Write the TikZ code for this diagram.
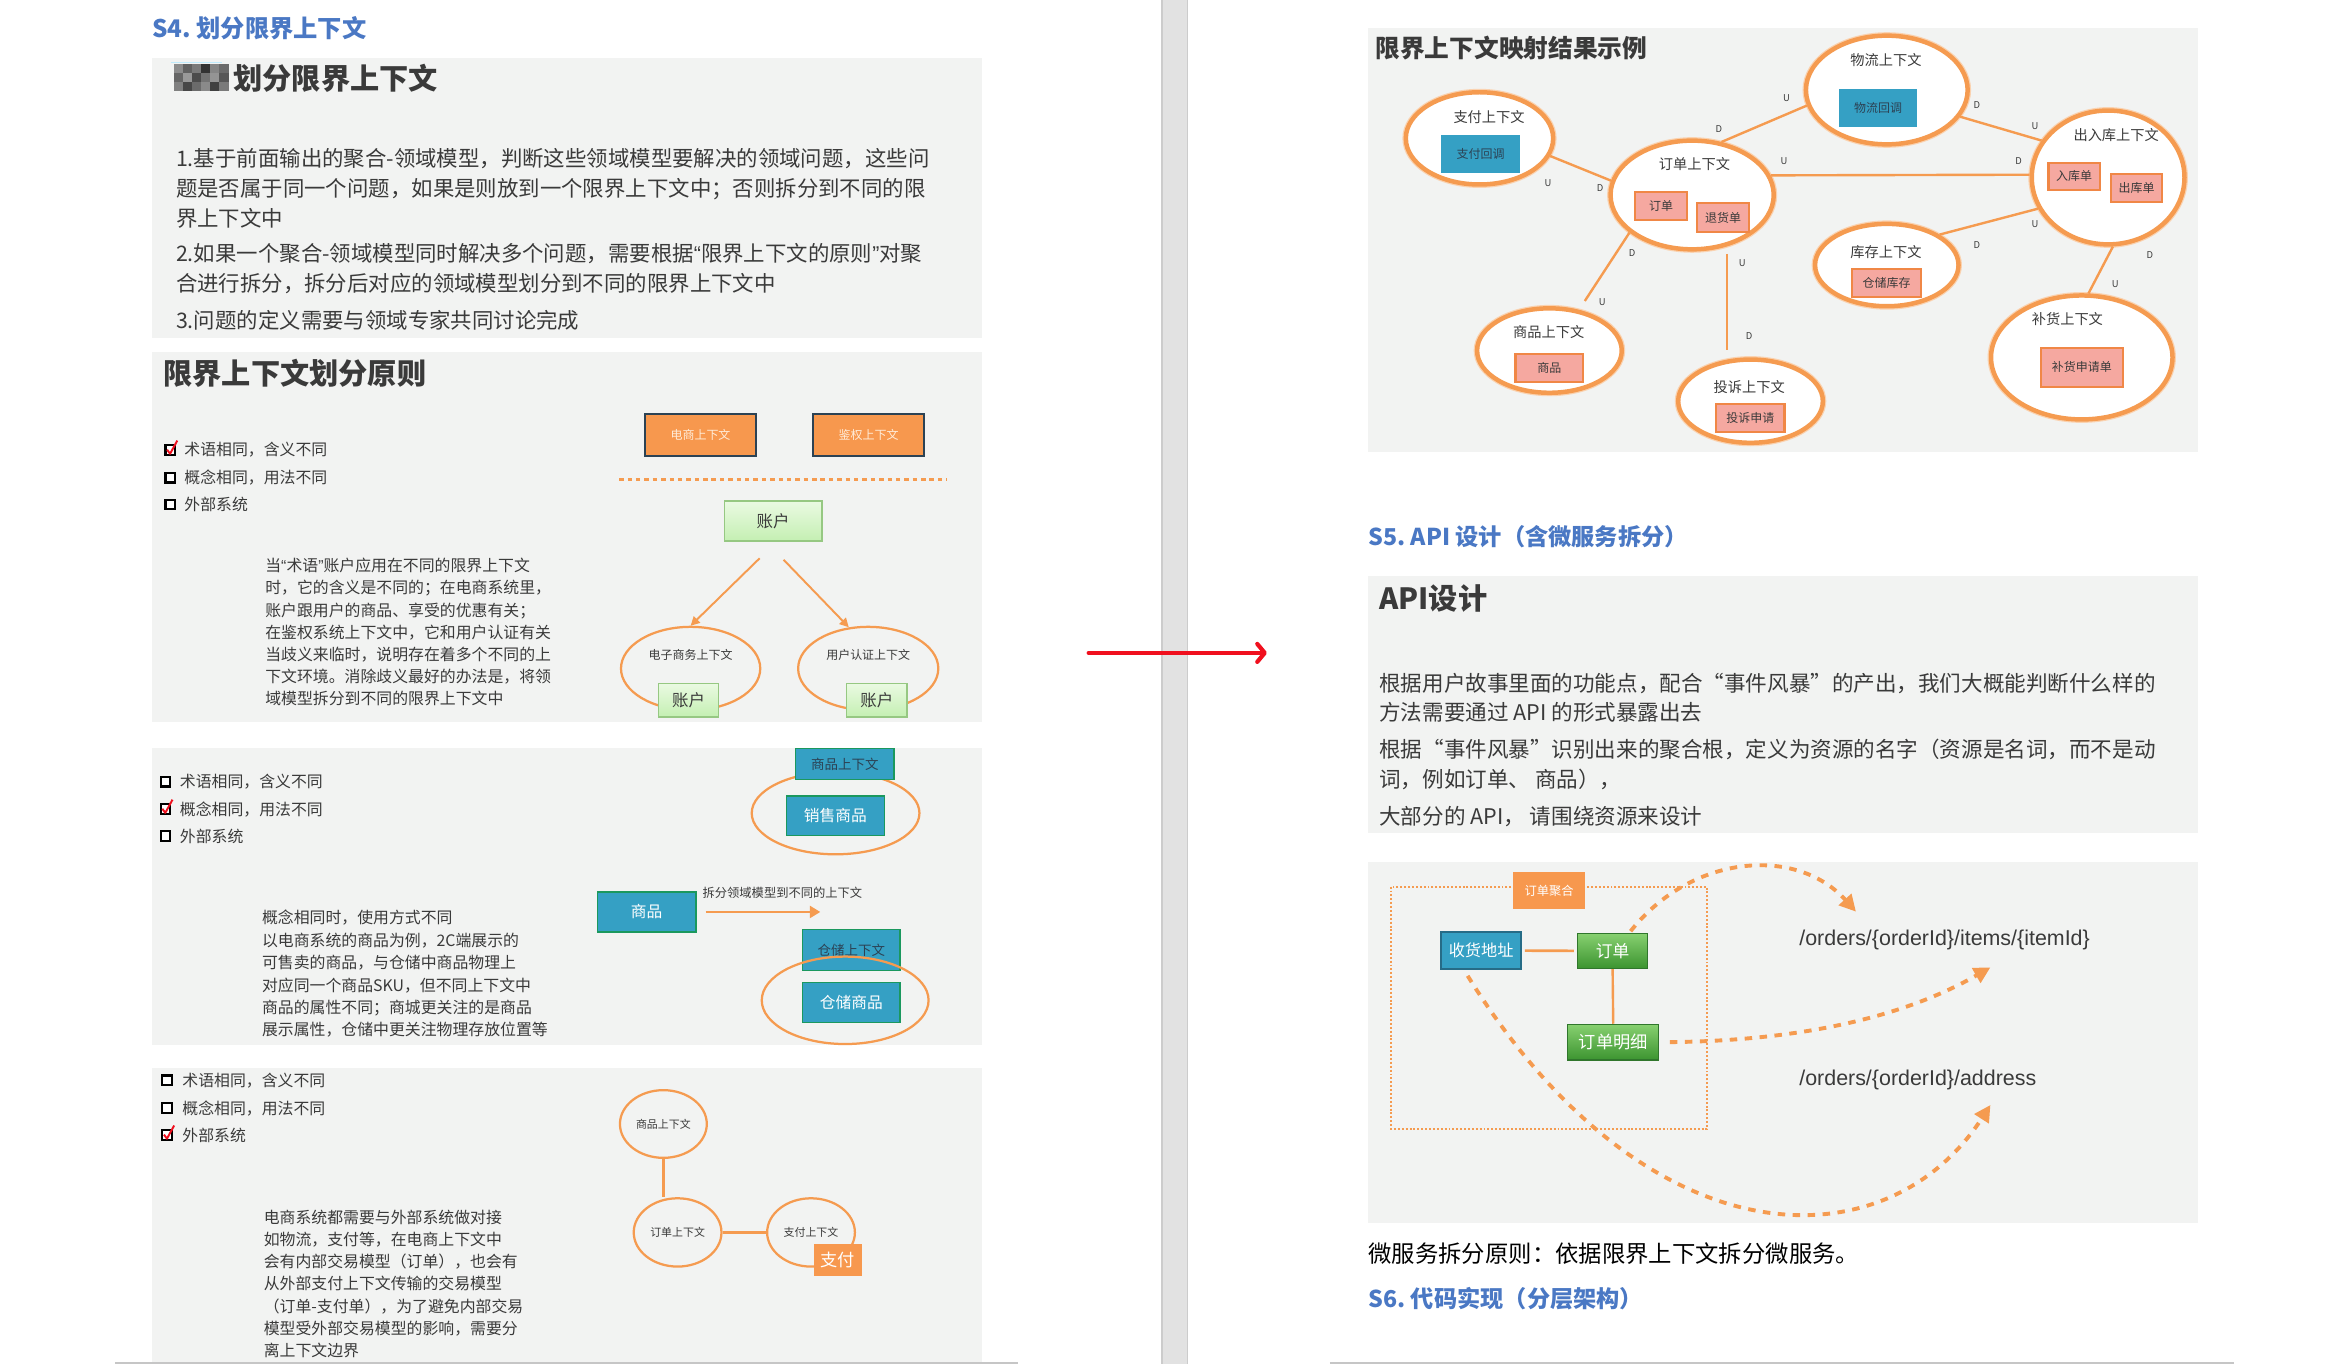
\documentclass[tikz,border=0pt]{standalone}
\usepackage{fontspec}
\setmainfont{Noto Sans CJK SC}
\newfontfamily\urlfont{Liberation Sans}
\usetikzlibrary{shapes.geometric,arrows.meta,positioning}
\definecolor{panelgray}{RGB}{242,243,242}
\definecolor{headblue}{RGB}{74,120,196}
\definecolor{txtgray}{RGB}{58,58,58}
\definecolor{ctxorange}{RGB}{247,152,78}
\definecolor{lineorange}{RGB}{245,155,80}
\definecolor{boxedge}{RGB}{44,66,84}
\definecolor{tealfill}{RGB}{53,160,196}
\definecolor{tealedge}{RGB}{38,108,135}
\definecolor{pinkfill}{RGB}{245,168,160}
\definecolor{pinkedge}{RGB}{240,135,70}
\definecolor{ltgreentop}{RGB}{234,250,226}
\definecolor{ltgreenbot}{RGB}{196,239,178}
\definecolor{ltgreenedge}{RGB}{150,200,130}
\definecolor{dkgreentop}{RGB}{135,208,112}
\definecolor{dkgreenbot}{RGB}{60,148,48}
\definecolor{dkgreenedge}{RGB}{48,118,44}
\definecolor{arrowred}{RGB}{240,16,30}
\definecolor{bargray}{RGB}{226,226,226}
\newcommand{\fz}[2]{\fontsize{#1}{#2}\selectfont}
\newcommand{\lqm}{{\urlfont “}}
\newcommand{\rqm}{{\urlfont ”}}
\begin{document}
\begin{tikzpicture}[x=1pt,y=-1pt]
\tikzset{panel/.style={fill=panelgray}}
\tikzset{head/.style={anchor=west,inner sep=0pt,text=headblue,font=\bfseries\fz{15.5}{18}}}
\tikzset{title/.style={anchor=west,inner sep=0pt,text=txtgray,font=\bfseries\fz{19.5}{23}}}
\tikzset{para/.style={anchor=north west,inner sep=0pt,align=left,text=txtgray}}
\tikzset{chk/.style={draw=black,line width=1.4pt,minimum size=6.4pt,inner sep=0pt,fill=white}}
\tikzset{chktxt/.style={anchor=west,inner sep=0pt,text=txtgray,font=\fz{10.6}{12}}}
\tikzset{tick/.style={arrowred,line width=1.3pt,line join=round}}
\tikzset{ctxbox/.style={rectangle,fill=ctxorange,draw=boxedge,line width=1.2pt,text=white!85!orange,font=\fz{8}{9}}}
\tikzset{greenbox/.style={rectangle,top color=ltgreentop,bottom color=ltgreenbot,draw=ltgreenedge,line width=0.9pt,text=txtgray,font=\fz{11}{12}}}
\tikzset{darkgreen/.style={rectangle,top color=dkgreentop,bottom color=dkgreenbot,draw=dkgreenedge,line width=0.9pt,text=white,font=\fz{11.2}{12}}}
\tikzset{tealbox/.style={rectangle,fill=tealfill,draw=tealedge!70!green,line width=0.9pt,text=white,font=\fz{10.5}{12}}}
\tikzset{pinkbox/.style={rectangle,fill=pinkfill,draw=pinkedge,line width=1.4pt,text=txtgray,font=\fz{8}{9}}}
\tikzset{ring/.style={ellipse,draw=lineorange,line width=1.5pt,inner sep=0pt}}
\tikzset{brush/.style={ellipse,draw=lineorange,line width=3pt,fill=white,inner sep=0pt,preaction={draw=lineorange!45,line width=4.6pt}}}
\tikzset{lbl/.style={inner sep=0pt,text=txtgray}}
\tikzset{ud/.style={inner sep=0pt,text=txtgray,font=\fz{6.3}{7}}}
\tikzset{link/.style={draw=lineorange,line width=1.6pt}}
\tikzset{flow/.style={draw=lineorange,line width=2.6pt,dash pattern=on 5pt off 5pt,-{Triangle[length=11pt,width=11pt]}}}

\useasboundingbox (0,0) rectangle (1568,911);
\fill[white] (0,0) rectangle (1568,911);
\draw[gray!45,line width=1.2pt] (77,910) -- (680,910);
\draw[gray!45,line width=1.2pt] (888,910) -- (1492,910);
\fill[bargray] (776,0) rectangle (793,911);
\draw[gray!40,line width=0.8pt] (776,0) -- (776,911) (793,0) -- (793,911);
\coordinate (arrs) at (727,436);
\coordinate (arre) at (846,436);
\draw[arrowred,line width=2.8pt,line cap=round,-{Straight Barb[length=5pt,width=12pt,round]}] (arrs) -- (arre);

% S4
\draw (101.5,19) node[head,font=\bfseries\fz{16.2}{18}] (s4) {S4.\ 划分限界上下文};
\fill[panel] (101.5,39) rectangle (656,225.5);
\draw[cyan!25,line width=0.8pt] (114,41.5) -- (148,41.5);
\foreach \c/\r/\g in {0/0/45,1/0/62,2/0/52,3/0/80,4/0/48,5/0/58,0/1/60,1/1/40,2/1/70,3/1/55,4/1/42,5/1/66,0/2/50,1/2/72,2/2/58,3/2/46,4/2/75,5/2/52}
  \fill[black!\g] (116+6.1*\c,42.5+6.1*\r) rectangle (116+6.1*\c+6.1,42.5+6.1*\r+6.1);
\draw (155.7,52) node[title] (t1) {划分限界上下文};
\draw (117.4,99.2) node[para,font=\fz{14.3}{20}] (p1a) {1.基于前面输出的聚合-领域模型，判断这些领域模型要解决的领域问题，这些问\\题是否属于同一个问题，如果是则放到一个限界上下文中；否则拆分到不同的限\\界上下文中};
\draw (117.4,162.6) node[para,font=\fz{14.3}{20}] (p1b) {2.如果一个聚合-领域模型同时解决多个问题，需要根据\lqm 限界上下文的原则\rqm 对聚\\合进行拆分，拆分后对应的领域模型划分到不同的限界上下文中};
\draw (117.4,206.7) node[para,font=\fz{14.3}{20}] (p1c) {3.问题的定义需要与领域专家共同讨论完成};

% principle 1
\fill[panel] (101.5,235) rectangle (656,482);
\draw (109,249) node[title] (t2) {限界上下文划分原则};
\foreach \y/\t [count=\i] in {300.6/术语相同，含义不同,319/概念相同，用法不同,336.9/外部系统}{
  \draw (113.7,\y) node[chk] (ca\i) {};
  \draw (123,\y) node[chktxt] (cta\i) {\t};
}
\draw[tick] (111.6,300.3) -- (113.6,303) -- (118.4,294.2);
\draw (467.8,290.5) node[ctxbox,minimum width=74.4pt,minimum height=28pt] (eshop) {电商上下文};
\draw (580,290.5) node[ctxbox,minimum width=74.4pt,minimum height=28pt] (authctx) {鉴权上下文};
\coordinate (sepl) at (413.5,320);
\coordinate (sepr) at (632,320);
\draw[lineorange,line width=2pt,dash pattern=on 3pt off 2.6pt] (sepl) -- (sepr);
\draw (516.3,348) node[greenbox,minimum width=65.4pt,minimum height=26.7pt] (acct) {账户};
\draw (461.2,446.4) node[ring,minimum width=93pt,minimum height=55.6pt] (ec) {};
\draw (579.8,446.4) node[ring,minimum width=93.6pt,minimum height=55.6pt] (ua) {};
\draw (461.2,437.5) node[lbl,font=\fz{8}{9}] (ect) {电子商务上下文};
\draw (579.8,437.5) node[lbl,font=\fz{8}{9}] (uat) {用户认证上下文};
\draw (459.9,467.5) node[greenbox,minimum width=40.2pt,minimum height=22.4pt] (acct1) {账户};
\draw (585.6,467.5) node[greenbox,minimum width=40.3pt,minimum height=22.4pt] (acct2) {账户};
\draw[link,line width=1.3pt,-{Triangle[length=6pt,width=6pt]}] ([xshift=-9pt,yshift=-11pt]acct.south) -- (ec.north);
\draw[link,line width=1.3pt,-{Triangle[length=6pt,width=6pt]}] ([xshift=7pt,yshift=-12pt]acct.south) -- ([xshift=-13pt,yshift=-1pt]ua.north);
\draw (177,372.5) node[para,font=\fz{10.6}{14.85}] (p2) {当\lqm 术语\rqm 账户应用在不同的限界上下文\\时，它的含义是不同的；在电商系统里，\\账户跟用户的商品、享受的优惠有关；\\在鉴权系统上下文中，它和用户认证有关\\当歧义来临时，说明存在着多个不同的上\\下文环境。消除歧义最好的办法是，将领\\域模型拆分到不同的限界上下文中};

% principle 2
\fill[panel] (101.5,499.7) rectangle (656,698);
\foreach \y/\t [count=\i] in {522/术语相同，含义不同,540.4/概念相同，用法不同,558.4/外部系统}{
  \draw (110.5,\y) node[chk] (cb\i) {};
  \draw (120,\y) node[chktxt] (ctb\i) {\t};
}
\draw[tick] (108.4,540.1) -- (110.4,542.8) -- (115.2,534);
\draw (558,543) node[ring,minimum width=112pt,minimum height=55pt] (sale) {};
\draw (564.2,510.3) node[tealbox,text=boxedge,font=\fz{9}{10},minimum width=65.6pt,minimum height=20.6pt] (gctx) {商品上下文};
\draw (557.8,544.7) node[tealbox,minimum width=65.5pt,minimum height=26.5pt] (saleg) {销售商品};
\draw (431.8,609) node[tealbox,minimum width=65.9pt,minimum height=26.8pt] (goods) {商品};
\coordinate (splitend) at (547.8,609);
\draw[link,line width=1.6pt,-{Triangle[length=7pt,width=8pt]}] ([xshift=6pt]goods.east) -- (splitend);
\draw (469,596.3) node[lbl,anchor=west,font=\fz{8.2}{9}] (splitl) {拆分领域模型到不同的上下文};
\draw (568.5,634.3) node[tealbox,text=boxedge,font=\fz{9}{10},minimum width=65pt,minimum height=27.4pt] (wctx) {仓储上下文};
\draw (568.5,669.5) node[tealbox,minimum width=65pt,minimum height=27pt] (wareg) {仓储商品};
\draw (564.4,668) node[ring,minimum width=111.4pt,minimum height=58.4pt] (ware) {};
\draw (174.8,607.5) node[para,font=\fz{10.6}{15}] (p3) {概念相同时，使用方式不同\\以电商系统的商品为例，2C端展示的\\可售卖的商品，与仓储中商品物理上\\对应同一个商品SKU，但不同上下文中\\商品的属性不同；商城更关注的是商品\\展示属性，仓储中更关注物理存放位置等};

% principle 3
\fill[panel] (101.5,713.5) rectangle (656,909.6);
\foreach \y/\t [count=\i] in {721.4/术语相同，含义不同,740/概念相同，用法不同,758/外部系统}{
  \draw (111.6,\y) node[chk] (cc\i) {};
  \draw (121.6,\y) node[chktxt] (ctc\i) {\t};
}
\draw[tick] (109.5,757.7) -- (111.5,760.4) -- (116.3,751.6);
\draw (443,750.6) node[ring,minimum width=58pt,minimum height=45.2pt] (gp) {};
\draw (452.5,823) node[ring,minimum width=58.6pt,minimum height=45.6pt] (op) {};
\draw (541.6,823) node[ring,minimum width=58.6pt,minimum height=45.6pt] (pp) {};
\draw (443,750.6) node[lbl,font=\fz{7.3}{8}] (gpt) {商品上下文};
\draw (452.5,823) node[lbl,font=\fz{7.3}{8}] (opt) {订单上下文};
\draw (541.6,823) node[lbl,font=\fz{7.3}{8}] (ppt) {支付上下文};
\draw (559.6,841.5) node[fill=ctxorange,text=white,font=\fz{11.5}{12},minimum width=32.2pt,minimum height=21pt,inner sep=0pt] (payb) {支付};
\draw[link] (gp.south) -- (gp.south |- op.north);
\draw[link,line width=2pt] (op.east) -- (pp.west);
\draw (176,807.6) node[para,font=\fz{10.6}{14.9}] (p4) {电商系统都需要与外部系统做对接\\如物流，支付等，在电商上下文中\\会有内部交易模型（订单），也会有\\从外部支付上下文传输的交易模型\\（订单-支付单），为了避免内部交易\\模型受外部交易模型的影响，需要分\\离上下文边界};

% context map
\fill[panel] (913.7,18.9) rectangle (1467.5,301.6);
\draw (918.4,32.3) node[title,font=\bfseries\fz{16.5}{19}] (t3) {限界上下文映射结果示例};
\draw (1260,60.1) node[brush,minimum width=108pt,minimum height=72.6pt] (wl) {};
\draw (988,92.4) node[brush,minimum width=98.4pt,minimum height=61.6pt] (pay) {};
\draw (1130,130.2) node[brush,minimum width=109pt,minimum height=72.6pt] (ord) {};
\draw (1407.8,118.5) node[brush,minimum width=102pt,minimum height=89.4pt] (io) {};
\draw (1260,177) node[brush,minimum width=95.8pt,minimum height=55pt] (st) {};
\draw (1034.7,234.1) node[brush,minimum width=96.6pt,minimum height=56.4pt] (gd) {};
\draw (1169,267.9) node[brush,minimum width=96.6pt,minimum height=55.6pt] (cp) {};
\draw (1390.2,238.7) node[brush,minimum width=121.2pt,minimum height=82.8pt] (rp) {};
\foreach \p/\t/\n in {{1259.4,40}/物流上下文/wlt,{994.4,77.9}/支付上下文/payt,{1131.6,109.5}/订单上下文/ordt,{1413.2,90.2}/出入库上下文/iot,{1259.4,168}/库存上下文/stt,{1034.2,222}/商品上下文/gdt,{1168.1,258.2}/投诉上下文/cpt,{1380.6,213.3}/补货上下文/rpt}
  \draw (\p) node[lbl,font=\fz{9.5}{10}] (\n) {\t};
\draw (1254.2,72) node[tealbox,text=boxedge,font=\fz{8}{9},draw=none,minimum width=52pt,minimum height=25pt] (wlcb) {物流回调};
\draw (988.7,102.7) node[tealbox,text=boxedge,font=\fz{8}{9},draw=none,minimum width=52.5pt,minimum height=25pt] (paycb) {支付回调};
\draw (1109.3,137.5) node[pinkbox,minimum width=34.4pt,minimum height=18.9pt] (ordb) {订单};
\draw (1150.7,145.2) node[pinkbox,minimum width=34.7pt,minimum height=18.9pt] (retb) {退货单};
\draw (1385.1,117.7) node[pinkbox,minimum width=34.3pt,minimum height=18.3pt] (inb) {入库单};
\draw (1426.8,125.7) node[pinkbox,minimum width=34.4pt,minimum height=18.7pt] (outb) {出库单};
\draw (1259.9,189.2) node[pinkbox,minimum width=46pt,minimum height=18.7pt] (stb) {仓储库存};
\draw (1034.7,246) node[pinkbox,minimum width=45.3pt,minimum height=18.7pt] (gdb) {商品};
\draw (1168.9,279.3) node[pinkbox,minimum width=45.6pt,minimum height=18.7pt] (cpb) {投诉申请};
\draw (1390.3,245.2) node[pinkbox,minimum width=54.3pt,minimum height=26pt] (rpb) {补货申请单};
\draw[link] (pay.-14) -- (ord.170);
\draw[link] (ord.61) -- (wl.191);
\draw[link] (wl.-20) -- (io.151);
\draw[link] (ord.14) -- (io.178);
\draw[link] (st.30) -- (io.204);
\draw[link] (io.-86) -- (rp.84);
\draw[link,shorten >=7pt] (ord.211) -- (gd.54);
\draw[link,shorten <=5pt,shorten >=5pt] (ord.-56) -- (ord.-56 |- cp.north);
\foreach \p/\t in {{1033.8,122.5}/U,{1068.6,125.8}/D,{1147.9,86.4}/D,{1193.1,65.2}/U,{1320.2,70.1}/D,{1358.9,84.2}/U,{1191.3,107.3}/U,{1348,107.3}/D,{1320.2,163.9}/D,{1358.9,149.9}/U,{1435.6,170.3}/D,{1412.5,190}/U,{1090,169.2}/D,{1070,201.5}/U,{1163.4,175.9}/U,{1168.1,224.4}/D}
  \draw (\p) node[ud] {\t};

% S5
\draw (913.7,358.4) node[head] (s5) {S5.\ API 设计（含微服务拆分）};
\fill[panel] (913.7,384.6) rectangle (1467.5,556.5);
\draw (920.9,399.5) node[title] (t4) {API设计};
\draw (920.9,449.3) node[para,font=\fz{14.4}{19.3}] (p5a) {根据用户故事里面的功能点，配合“事件风暴”的产出，我们大概能判断什么样的\\方法需要通过 API 的形式暴露出去};
\draw (920.9,493.1) node[para,font=\fz{14.4}{20.1}] (p5b) {根据“事件风暴”识别出来的聚合根，定义为资源的名字（资源是名词，而不是动\\词，例如订单、 商品），};
\draw (920.9,538.3) node[para,font=\fz{14.4}{20}] (p5c) {大部分的 API， 请围绕资源来设计};

% api
\fill[panel] (913.7,575.4) rectangle (1467.5,817);
\draw[lineorange,line width=1.3pt,dash pattern=on 1.3pt off 1.3pt] (929.2,592.1) rectangle (1139.9,754.2);
\draw (1034.5,594.9) node[fill=ctxorange,text=white,font=\fz{8.2}{9},minimum width=48.5pt,minimum height=24.7pt,inner sep=0pt] (agg) {订单聚合};
\draw (989.1,634.8) node[tealbox,draw=tealedge,line width=1.2pt,font=\fz{10.8}{12},minimum width=53.2pt,minimum height=24.5pt] (addr) {收货地址};
\draw (1076.9,635) node[darkgreen,minimum width=47pt,minimum height=23.4pt] (ordg) {订单};
\draw (1077.3,696) node[darkgreen,font=\fz{11.5}{12},minimum width=60.8pt,minimum height=23.8pt] (item) {订单明细};
\draw[link,line width=1.8pt,shorten <=2pt,shorten >=2pt] (addr.east) -- (ordg.west);
\draw[link,line width=1.6pt] (ordg.south) -- (item.north);
\draw (1201.4,627.8) node[lbl,anchor=west,font=\urlfont\fz{14.3}{16}] (url1) {/orders/\{orderId\}/items/\{itemId\}};
\draw (1201.4,721.3) node[lbl,anchor=west,font=\urlfont\fz{14.3}{16}] (url2) {/orders/\{orderId\}/address};
\coordinate (tip1) at (1239.4,608.8);
\coordinate (tip2) at (1329.2,646);
\coordinate (tip3) at (1329.2,737.9);
\draw[flow] ([xshift=12pt,yshift=1pt]ordg.north) .. controls (1130,570) and (1200,565) .. (tip1);
\draw[flow,shorten <=7pt] (item.east) .. controls (1200,695) and (1270,680) .. (tip2);
\draw[flow] ([xshift=-9pt,yshift=-4pt]addr.south) .. controls (1100,845) and (1260,845) .. (tip3);
\draw (913.7,837) node[lbl,anchor=west,text=black,font=\fz{15.6}{17}] (rule) {微服务拆分原则：依据限界上下文拆分微服务。};
\draw (913.7,867) node[head] (s6) {S6.\ 代码实现（分层架构）};
\end{tikzpicture}
\end{document}
